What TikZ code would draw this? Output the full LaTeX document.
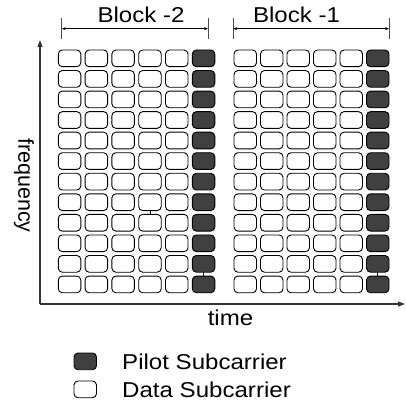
\documentclass[tikz,border=0pt]{standalone}
\usepackage{fontspec}
\setmainfont{Liberation Sans}
\usetikzlibrary{arrows.meta}
\definecolor{pilotgray}{HTML}{404040}
\begin{document}
\begin{tikzpicture}[x=1pt,y=1pt,
  cell/.style={draw=black, line width=0.9pt, rounded corners=4pt, minimum width=22.5pt,
    minimum height=16.7pt, inner sep=0pt, outer sep=0pt, anchor=north west},
  datacell/.style={cell, fill=white},
  pilotcell/.style={cell, fill=pilotgray},
  lbl/.style={font=\fontsize{21.5}{26}\selectfont, inner sep=0pt},
  axisline/.style={line width=1.2pt, draw=black!80, -{Triangle[length=7pt,width=5pt]}},
  dimline/.style={line width=0.6pt, {Stealth[length=4pt,width=3pt]}-{Stealth[length=4pt,width=3pt]}},
  dimtick/.style={line width=0.6pt, draw=black!70},
  joinline/.style={line width=0.7pt}
]
\useasboundingbox (0,0) rectangle (406,-403);

% grid of block -2
\foreach \r [evaluate=\r as \y using -50-20.55*\r] in {0,...,11}{
  \foreach \c [evaluate=\c as \x using 58.3+26.8*\c] in {0,...,4}{
    \node[datacell] (a-\r-\c) at (\x,\y) {};
  }
  \node[pilotcell] (a-\r-5) at (192.3,\y) {};
}
% grid of block -1
\foreach \r [evaluate=\r as \y using -50-20.55*\r] in {0,...,11}{
  \foreach \c [evaluate=\c as \x using 234+26.5*\c] in {0,...,4}{
    \node[datacell] (b-\r-\c) at (\x,\y) {};
  }
  \node[pilotcell] (b-\r-5) at (366.5,\y) {};
}

% small joins between cells
\draw[joinline] (a-7-3.south) -- (a-8-3.north);
\draw[joinline] (a-10-5.south) -- (a-11-5.north);
\draw[joinline] (b-10-5.south) -- (b-11-5.north);

% axes
\coordinate (origin) at (40,-304);
\coordinate (ytip) at (40,-40);
\coordinate (xtip) at (405,-304);
\draw[axisline] (origin) -- (ytip);
\draw[axisline] (origin) -- (xtip);

% block dimension lines
\coordinate (d2l) at (61.7,-28.7);
\coordinate (d2r) at (208,-28.7);
\coordinate (d1l) at (233.3,-28.7);
\coordinate (d1r) at (389,-28.7);
\foreach \p in {d2l,d2r,d1l,d1r}{
  \draw[dimtick] ([yshift=10.5pt]\p) -- ([yshift=-10pt]\p);
}
\draw[dimline] (d2l) -- (d2r);
\draw[dimline] (d1l) -- (d1r);

% labels
\node[lbl, anchor=base] (blk2) at (141,-22.7) {\scalebox{1.12}[1]{Block -2}};
\node[lbl, anchor=base] (blk1) at (296.5,-22.7) {\scalebox{1.12}[1]{Block -1}};
\node[lbl, anchor=base] (time) at (230.5,-325) {\scalebox{1.12}[1]{time}};
\node[lbl, rotate=-90, anchor=center] (freq) at (24,-185.5) {frequency};

% legend
\node[pilotcell] (legp) at (74,-353) {};
\node[datacell] (legd) at (74,-381) {};
\node[lbl, anchor=base west] (legptext) at (122,-369) {\scalebox{1.12}[1]{Pilot Subcarrier}};
\node[lbl, anchor=base west] (legdtext) at (122,-397.5) {\scalebox{1.12}[1]{Data Subcarrier}};
\end{tikzpicture}
\end{document}
